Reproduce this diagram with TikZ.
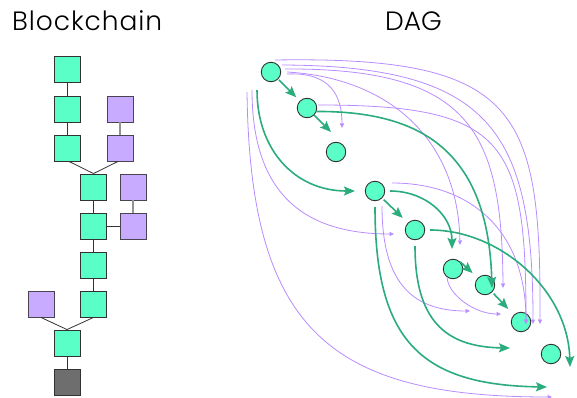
\documentclass[tikz,border=0pt]{standalone}
\usepackage{fontspec}
\setmainfont{Poppins}[UprightFont={* Light}]
\usetikzlibrary{arrows.meta}
\definecolor{gfill}{RGB}{90,255,200}
\definecolor{pfill}{RGB}{200,170,255}
\definecolor{dfill}{RGB}{110,110,110}
\definecolor{edgeg}{RGB}{42,172,125}
\definecolor{edgep}{RGB}{184,140,255}
\definecolor{bord}{RGB}{50,50,50}
\begin{document}
\begin{tikzpicture}[x=1pt,y=-1pt,
  blk/.style={draw=bord,line width=0.9pt,minimum size=26pt,inner sep=0pt},
  gblk/.style={blk,fill=gfill},
  pblk/.style={blk,fill=pfill,draw=bord!85!pfill},
  dblk/.style={blk,fill=dfill},
  link/.style={draw=bord,line width=0.8pt},
  plink/.style={draw=gray!85,line width=1.5pt},
  tx/.style={font=\fontsize{26.5}{31}\selectfont,anchor=base west,inner sep=0pt},
  dnode/.style={circle,draw=bord,line width=0.9pt,fill=gfill,minimum size=19.5pt,inner sep=0pt},
  garr/.style={edgeg,line width=1.6pt,-{Stealth[length=11pt,width=9pt,inset=2pt]}},
  parr/.style={edgep,line width=0.8pt,-{Triangle[length=4.5pt,width=4pt]}}]
\useasboundingbox (0,0) rectangle (577,398);

% titles
\node[tx] (tb) at (12,31) {\addfontfeatures{LetterSpace=3.5}Blockchain};
\node[tx] (td) at (385,31) {DAG};

% blockchain
\node[gblk] (g1) at (67,69.5) {};
\node[gblk] (g2) at (67,109) {};
\node[gblk] (g3) at (67,148) {};
\node[pblk] (p1) at (120,109) {};
\node[pblk] (p2) at (120,148) {};
\node[gblk] (g4) at (93.5,187) {};
\node[pblk] (p3) at (133,187) {};
\node[gblk] (g5) at (93.5,226) {};
\node[pblk] (p4) at (133,226) {};
\node[gblk] (g6) at (93.5,265) {};
\node[gblk] (g7) at (93.5,304) {};
\node[pblk] (p5) at (41,304) {};
\node[gblk] (g8) at (67,343) {};
\node[dblk] (g9) at (67,382) {};

\draw[link] (g1) -- (g2);
\draw[link] (g2) -- (g3);
\draw[plink] (p1) -- (p2);
\draw[link] ([xshift=2pt]g3.south) -- (g4.north);
\draw[link] ([xshift=-2pt]p2.south) -- (g4.north);
\draw[link] (g4) -- (g5);
\draw[plink] (p3) -- (p4);
\draw[link] (g5) -- (p4);
\draw[link] (g5) -- (g6);
\draw[link] (g6) -- (g7);
\draw[link] (p5.south) -- (g8.north);
\draw[link] (g7.south) -- (g8.north);
\draw[link] (g8) -- (g9);

% DAG nodes
\node[dnode] (c1) at (271,72) {};
\node[dnode] (c2) at (307,108) {};
\node[dnode] (c3) at (336,152) {};
\node[dnode] (c4) at (375,191) {};
\node[dnode] (c5) at (415,230) {};
\node[dnode] (c6) at (453,269) {};
\node[dnode] (c7) at (485,285) {};
\node[dnode] (c8) at (521,322) {};
\node[dnode] (c9) at (551,354) {};

% tips
\coordinate (t23) at (331,132);
\coordinate (tg3) at (355,191);
\coordinate (tg4) at (492,288);
\coordinate (tg5) at (452,249);
\coordinate (tg7) at (570,367);
\coordinate (tg10) at (547,387);
\coordinate (tg11) at (510,348);
\coordinate (T1) at (342,128);
\coordinate (T2) at (394,234);
\coordinate (T3) at (460,245);
\coordinate (T4) at (503,288);
\coordinate (T5) at (470,311);
\coordinate (T6) at (501,314);
\coordinate (T7) at (526,324);
\coordinate (T8) at (533,324);
\coordinate (T9) at (540,324);
\coordinate (Tb) at (552,397);

% purple edges
\draw[parr] ([shift={(16,2)}]c1.center) .. controls (330,72) and (342,95) .. (T1);
\draw[parr] ([shift={(16,0)}]c1.center) .. controls (390,78) and (458,140) .. (T3);
\draw[parr] ([shift={(14,-3)}]c1.center) .. controls (470,68) and (502,130) .. (T4);
\draw[parr] ([shift={(11,-7)}]c1.center) .. controls (490,66) and (533,130) .. (T8);
\draw[parr] ([shift={(4,-12)}]c1.center) .. controls (520,56) and (541,110) .. (T9);
\draw[parr] ([shift={(11,-3)}]c2.center) .. controls (505,105) and (526,140) .. (T7);
\draw[parr] ([shift={(17,-8)}]c4.center) .. controls (470,183) and (526,230) .. (T7);
\draw[parr] ([shift={(7,15)}]c4.center) .. controls (382,280) and (410,311) .. (T5);
\draw[parr] ([shift={(-6,8)}]c6.center) .. controls (448,295) and (475,314) .. (T6);
\draw[parr] ([shift={(-19,18)}]c1.center) .. controls (252,190) and (300,234) .. (T2);
\draw[parr] ([shift={(-24,20)}]c1.center) .. controls (250,330) and (330,397) .. (Tb);

% green edges
\draw[garr,shorten <=1pt,shorten >=5pt] (c1.south east) -- (c2.north west);
\draw[garr] (c2.south east) -- (t23);
\draw[garr] ([shift={(-14,18)}]c1.center) .. controls (257,150) and (295,191) .. (tg3);
\draw[garr] (c2.-20) .. controls (420,111) and (488,150) .. (tg4);
\draw[garr] ([shift={(15,0)}]c4.center) .. controls (425,191) and (452,215) .. (tg5);
\draw[garr,shorten <=2pt,shorten >=7pt] (c4.south east) -- (c5.north west);
\draw[garr] ([shift={(15,0)}]c5.center) .. controls (500,230) and (568,290) .. (tg7);
\draw[garr,shorten >=7pt] (c6.north east) -- (c7.north west);
\draw[garr,shorten <=2pt,shorten >=8pt] (c7.south east) -- (c8.north west);
\draw[garr] ([shift={(0,16)}]c4.center) .. controls (375,340) and (420,385) .. (tg10);
\draw[garr] ([shift={(0,16)}]c5.center) .. controls (415,320) and (445,347) .. (tg11);
\end{tikzpicture}
\end{document}
